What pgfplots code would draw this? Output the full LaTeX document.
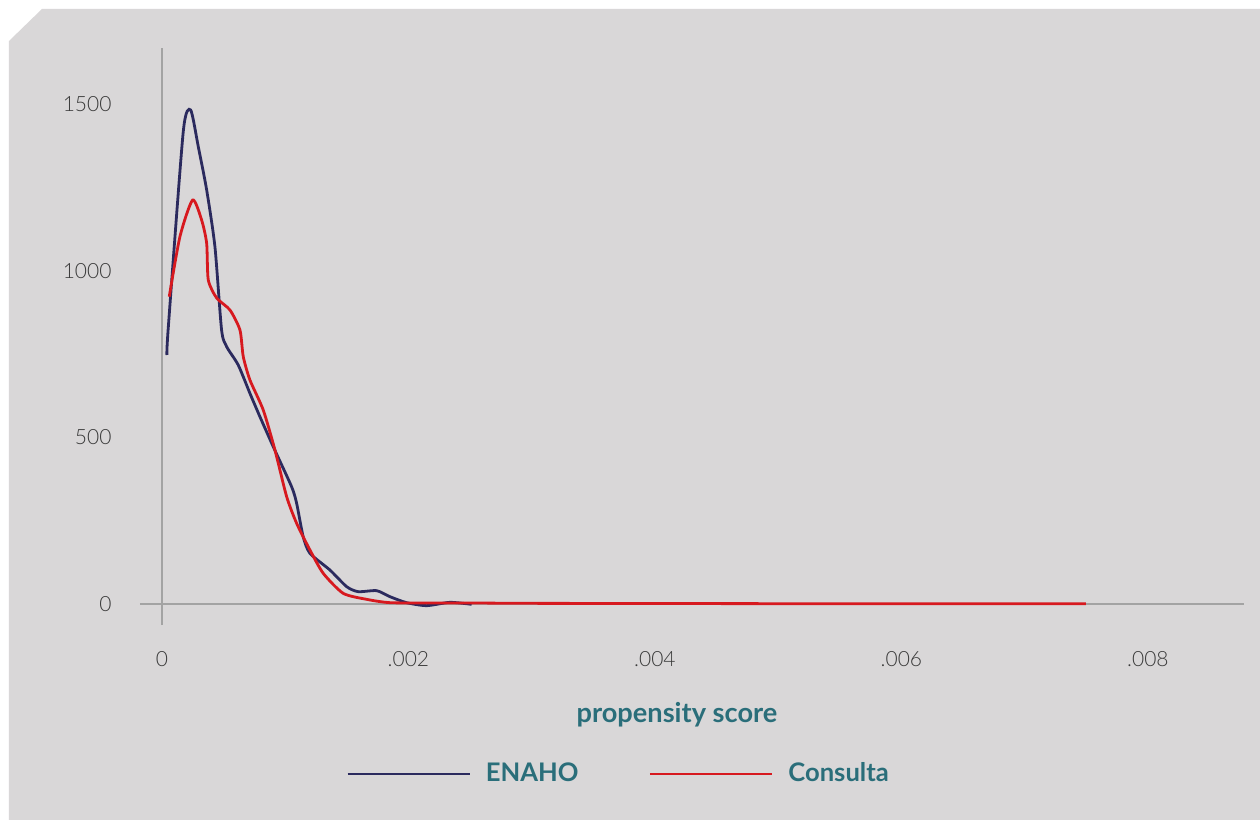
\documentclass[border=0pt]{standalone}
\usepackage{fontspec}
\setmainfont{Lato}
\newfontfamily\lightfont{Lato Light}
\usepackage{pgfplots}
\pgfplotsset{compat=1.18}
\definecolor{bg}{HTML}{D9D7D8}
\definecolor{navy}{HTML}{2B2A5E}
\definecolor{redc}{HTML}{D7191F}
\definecolor{teal}{HTML}{2A6E7A}
\definecolor{axgrey}{HTML}{A3A3A3}
\definecolor{ticktext}{HTML}{3A3A3A}
\begin{document}
\begin{tikzpicture}
\useasboundingbox (-70pt,-97.5pt) rectangle (560pt,312.5pt);
\fill[white] (-70pt,-97.5pt) rectangle (560pt,312.5pt);
\fill[bg] (-65.5pt,292pt) -- (-49pt,308pt) -- (560pt,308pt) -- (560pt,-97.5pt) -- (-65.5pt,-97.5pt) -- cycle;
\begin{axis}[
  at={(0,0)}, anchor=south west,
  scale only axis, width=552pt, height=288.5pt,
  xmin=-0.000178, xmax=0.00878, ymin=-63, ymax=1668,
  axis x line=center, axis y line=center,
  axis line style={axgrey, line width=1pt, -},
  xtick={0,0.002,0.004,0.006,0.008},
  xticklabels={0,.002,.004,.006,.008},
  ytick={0,500,1000,1500},
  yticklabels={0,500,1000,1500},
  scaled ticks=false,
  major tick length=0pt,
  tick style={draw=none},
  xticklabel style={font=\lightfont\fontsize{10.5}{12}\selectfont, text=ticktext, anchor=center, inner sep=0pt, yshift=-27.5pt},
  yticklabel style={font=\lightfont\fontsize{10.5}{12}\selectfont, text=ticktext, anchor=east, inner sep=0pt, xshift=-25pt},
  clip=false,
  legend columns=2,
  legend style={at={(axis description cs:0.4343,-0.2582)}, anchor=center, draw=none, fill=none,
    font=\bfseries\fontsize{12.8}{14}\selectfont, text=teal,
    /tikz/every odd column/.append style={column sep=5.5pt},
    /tikz/every even column/.append style={column sep=33pt}},
  legend image code/.code={\draw[#1] (0pt,0pt) -- (61pt,0pt);},
]
\addplot[navy, line width=1.4pt, smooth, tension=0.4] coordinates {
(0.0000406,747) (0.0000511,827) (0.000173,1417) (0.000233,1482) (0.000295,1372)
(0.000363,1242) (0.000430,1072) (0.000484,822) (0.000525,772) (0.000619,717)
(0.000714,632) (0.000795,562) (0.000903,472) (0.001052,352) (0.001093,302)
(0.001146,202) (0.001201,152) (0.001363,102) (0.001499,52) (0.001593,37)
(0.001742,40) (0.001850,22) (0.001985,4) (0.002148,-5) (0.002337,5) (0.002513,-1)
};
\addlegendentry{ENAHO}
\addplot[redc, line width=1.4pt, smooth, tension=0.4] coordinates {
(0.0000592,922) (0.000146,1102) (0.000249,1212) (0.000322,1152) (0.000363,1082)
(0.000376,972) (0.000444,918) (0.000552,882) (0.000633,822) (0.000660,742)
(0.000714,672) (0.000822,582) (0.000917,462) (0.001012,322) (0.001093,242)
(0.001201,162) (0.001309,92) (0.001471,32) (0.001661,14) (0.001850,4)
(0.0022,3) (0.0025,3) (0.003,2) (0.004,1.5) (0.005,1) (0.006,1) (0.007,0.5) (0.007497,0.5)
};
\addlegendentry{Consulta}
\node[font=\lightfont\fontsize{10.5}{12}\selectfont, text=ticktext, anchor=center, inner sep=0pt, yshift=-27.5pt] at (axis cs:0,0) {0};
\node[font=\lightfont\fontsize{10.5}{12}\selectfont, text=ticktext, anchor=east, inner sep=0pt, xshift=-25pt] at (axis cs:0,0) {0};
\node[font=\bfseries\fontsize{13.6}{15}\selectfont, text=teal] at (axis description cs:0.4864,-0.156) {propensity score};
\end{axis}
\end{tikzpicture}
\end{document}
